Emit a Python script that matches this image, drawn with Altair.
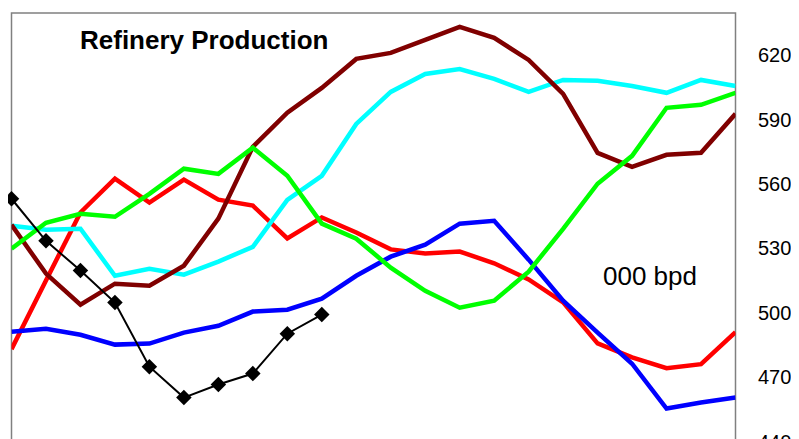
import altair as alt
import pandas as pd

# Data (thousand bpd), 22 periods
idx = list(range(22))
red = [483.3, 515.3, 547.0, 562.8, 551.6, 562.3, 553.0, 550.2, 534.9, 544.7, 537.7,
       529.8, 527.9, 528.8, 523.3, 515.8, 505.1, 486.0, 479.5, 474.4, 476.3, 491.2]
green = [530.1, 542.2, 546.4, 545.0, 555.7, 567.4, 565.0, 577.2, 564.1, 541.8, 534.8,
         521.3, 510.5, 502.6, 505.9, 519.4, 539.4, 560.4, 573.4, 595.8, 597.2, 602.8]
cyan = [540.8, 539.0, 539.4, 517.5, 520.8, 518.0, 524.1, 531.0, 552.9, 564.1, 588.3,
        603.2, 611.6, 613.9, 609.3, 603.2, 608.8, 608.4, 606.0, 602.8, 608.8, 606.0]
maroon = [541.3, 518.5, 504.0, 513.8, 512.9, 522.2, 544.1, 577.6, 593.5, 605.1, 618.6,
          621.4, 627.5, 633.5, 628.4, 618.1, 602.3, 574.8, 568.3, 573.9, 574.8, 593.0]
blue = [491.4, 492.8, 490.0, 485.4, 485.9, 491.0, 494.2, 500.8, 501.7, 506.8, 517.5,
        526.4, 532.0, 541.8, 543.1, 525.0, 505.9, 491.0, 476.5, 455.6, 458.4, 460.7]
black = [553.4, 533.8, 519.9, 505.0, 475.1, 460.7, 466.8, 471.9, 490.5, 499.4]

series_names = ["red", "blue", "cyan", "maroon", "green"]
series_vals = [red, blue, cyan, maroon, green]
series_colors = ["#FF0000", "#0000FF", "#00FFFF", "#800000", "#00FF00"]

title_text = "Refinery Production"
unit_text = "000 bpd"
y_ticks = [440, 470, 500, 530, 560, 590, 620]

rows = []
for order, (name, vals) in enumerate(zip(series_names, series_vals)):
    for i, v in zip(idx, vals):
        rows.append({"i": i, "v": v, "s": name, "o": order})
df = pd.DataFrame(rows)
dfb = pd.DataFrame({"i": idx[:len(black)], "v": black})

xs = alt.Scale(domain=[0, 21], nice=False, zero=False)
ys = alt.Scale(domain=[440, 640], nice=False, zero=False)

lines = alt.Chart(df).mark_line(strokeWidth=4.5, clip=True).encode(
    x=alt.X("i:Q", scale=xs, axis=None),
    y=alt.Y("v:Q", scale=ys, axis=alt.Axis(orient="right", values=y_ticks, grid=False,
                                            ticks=False, domain=False, labelPadding=22,
                                            labelFontSize=20, labelFont="Liberation Sans",
                                            labelColor="#000000", title=None)),
    color=alt.Color("s:N", scale=alt.Scale(domain=series_names, range=series_colors), legend=None),
    order=alt.Order("o:Q"),
    detail="s:N",
)

bline = alt.Chart(dfb).mark_line(color="#000000", strokeWidth=2).encode(
    x=alt.X("i:Q", scale=xs), y=alt.Y("v:Q", scale=ys))
bpts = alt.Chart(dfb).mark_point(shape="diamond", filled=True, color="#000000",
                                 size=240, opacity=1).encode(
    x=alt.X("i:Q", scale=xs), y=alt.Y("v:Q", scale=ys))

title = alt.Chart(pd.DataFrame({"t": [title_text]})).mark_text(
    align="left", baseline="alphabetic", fontSize=26, fontWeight="bold",
    font="Liberation Sans", color="#000000").encode(
    text="t:N", x=alt.value(68.5), y=alt.value(36))

unit = alt.Chart(pd.DataFrame({"t": [unit_text]})).mark_text(
    align="left", baseline="alphabetic", fontSize=26,
    font="Liberation Sans", color="#000000").encode(
    text="t:N", x=alt.value(591.5), y=alt.value(272))

chart = alt.layer(lines, bline, bpts, title, unit).properties(
    width=724, height=429,
    autosize=alt.AutoSizeParams(type="none"),
    padding={"left": 3.5, "top": 5, "right": 55.5, "bottom": 14},
).configure_view(stroke="#808080", strokeWidth=1.5)

chart.save("out.html", embed_options={"renderer": "svg", "actions": False})
